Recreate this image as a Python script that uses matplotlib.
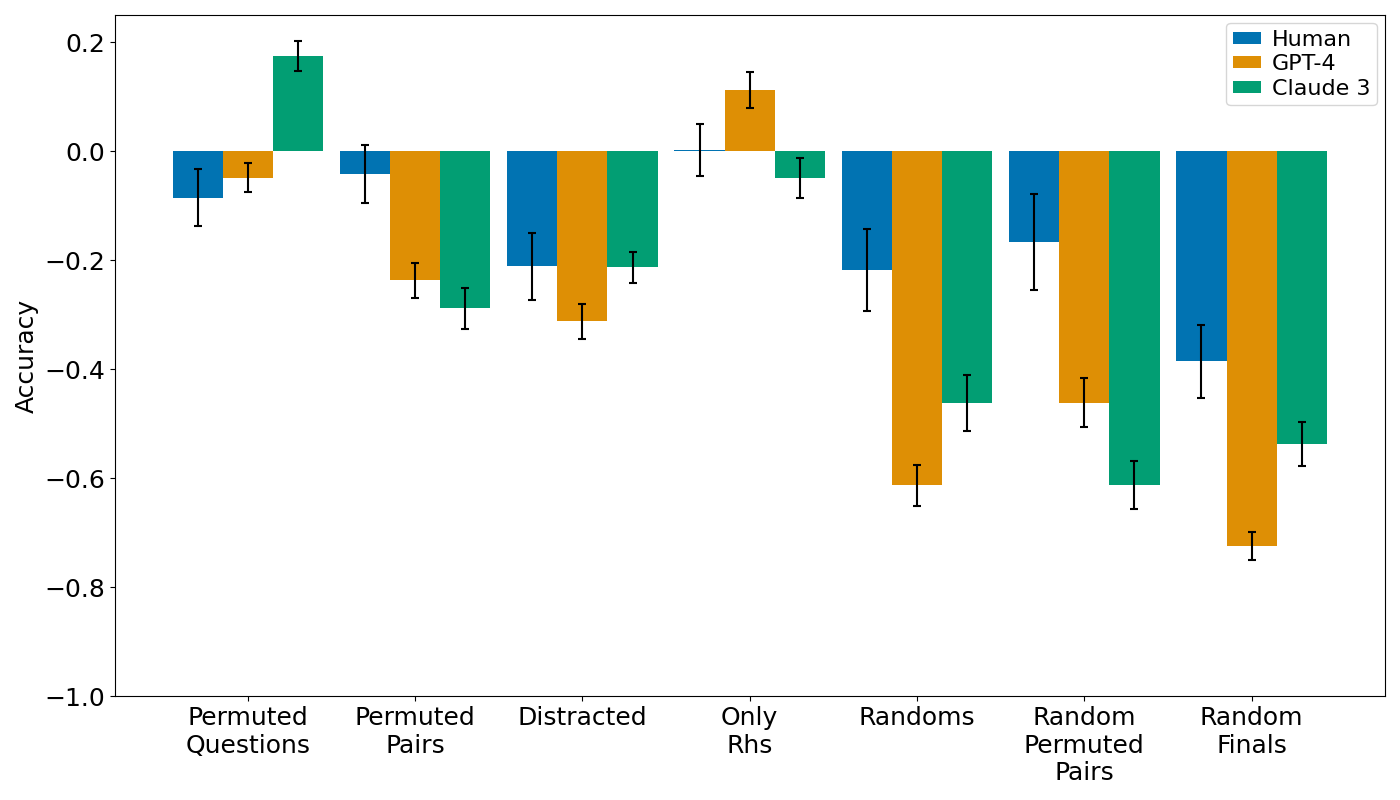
import matplotlib
matplotlib.use("Agg")
import matplotlib.pyplot as plt
import numpy as np

categories = ["Permuted\nQuestions", "Permuted\nPairs", "Distracted", "Only\nRhs",
              "Randoms", "Random\nPermuted\nPairs", "Random\nFinals"]
series_names = ["Human", "GPT-4", "Claude 3"]
human = [-0.085, -0.042, -0.211, 0.003, -0.218, -0.167, -0.385]
gpt4 = [-0.048, -0.237, -0.312, 0.112, -0.613, -0.462, -0.725]
claude = [0.175, -0.288, -0.213, -0.049, -0.462, -0.613, -0.537]
human_err = [0.052, 0.053, 0.062, 0.048, 0.076, 0.088, 0.067]
gpt4_err = [0.027, 0.032, 0.032, 0.033, 0.038, 0.045, 0.026]
claude_err = [0.028, 0.038, 0.029, 0.036, 0.052, 0.044, 0.040]
colors = ["#0173B2", "#DE8F05", "#029E73"]

fig, ax = plt.subplots(figsize=(14, 8), dpi=100)
x = np.arange(len(categories))
w = 0.3
for i, (vals, errs) in enumerate([(human, human_err), (gpt4, gpt4_err), (claude, claude_err)]):
    ax.bar(x + (i - 1) * w, vals, w, yerr=errs, color=colors[i], label=series_names[i],
           capsize=3, error_kw=dict(ecolor="black", elinewidth=1.5, capthick=1.5))

ax.set_xticks(x)
ax.set_xticklabels(categories, fontsize=18)
ax.tick_params(axis="y", labelsize=18)
ax.set_ylabel("Accuracy", fontsize=18)
ax.set_ylim(-1.0, 0.25)
ax.legend(fontsize=16, loc="upper right", borderaxespad=0.35, labelspacing=0.2,
          handlelength=1.25, handleheight=0.45, handletextpad=0.5, borderpad=0.3)
fig.subplots_adjust(left=0.082, right=0.989, top=0.981, bottom=0.13)
fig.savefig("out.png", dpi=100)
